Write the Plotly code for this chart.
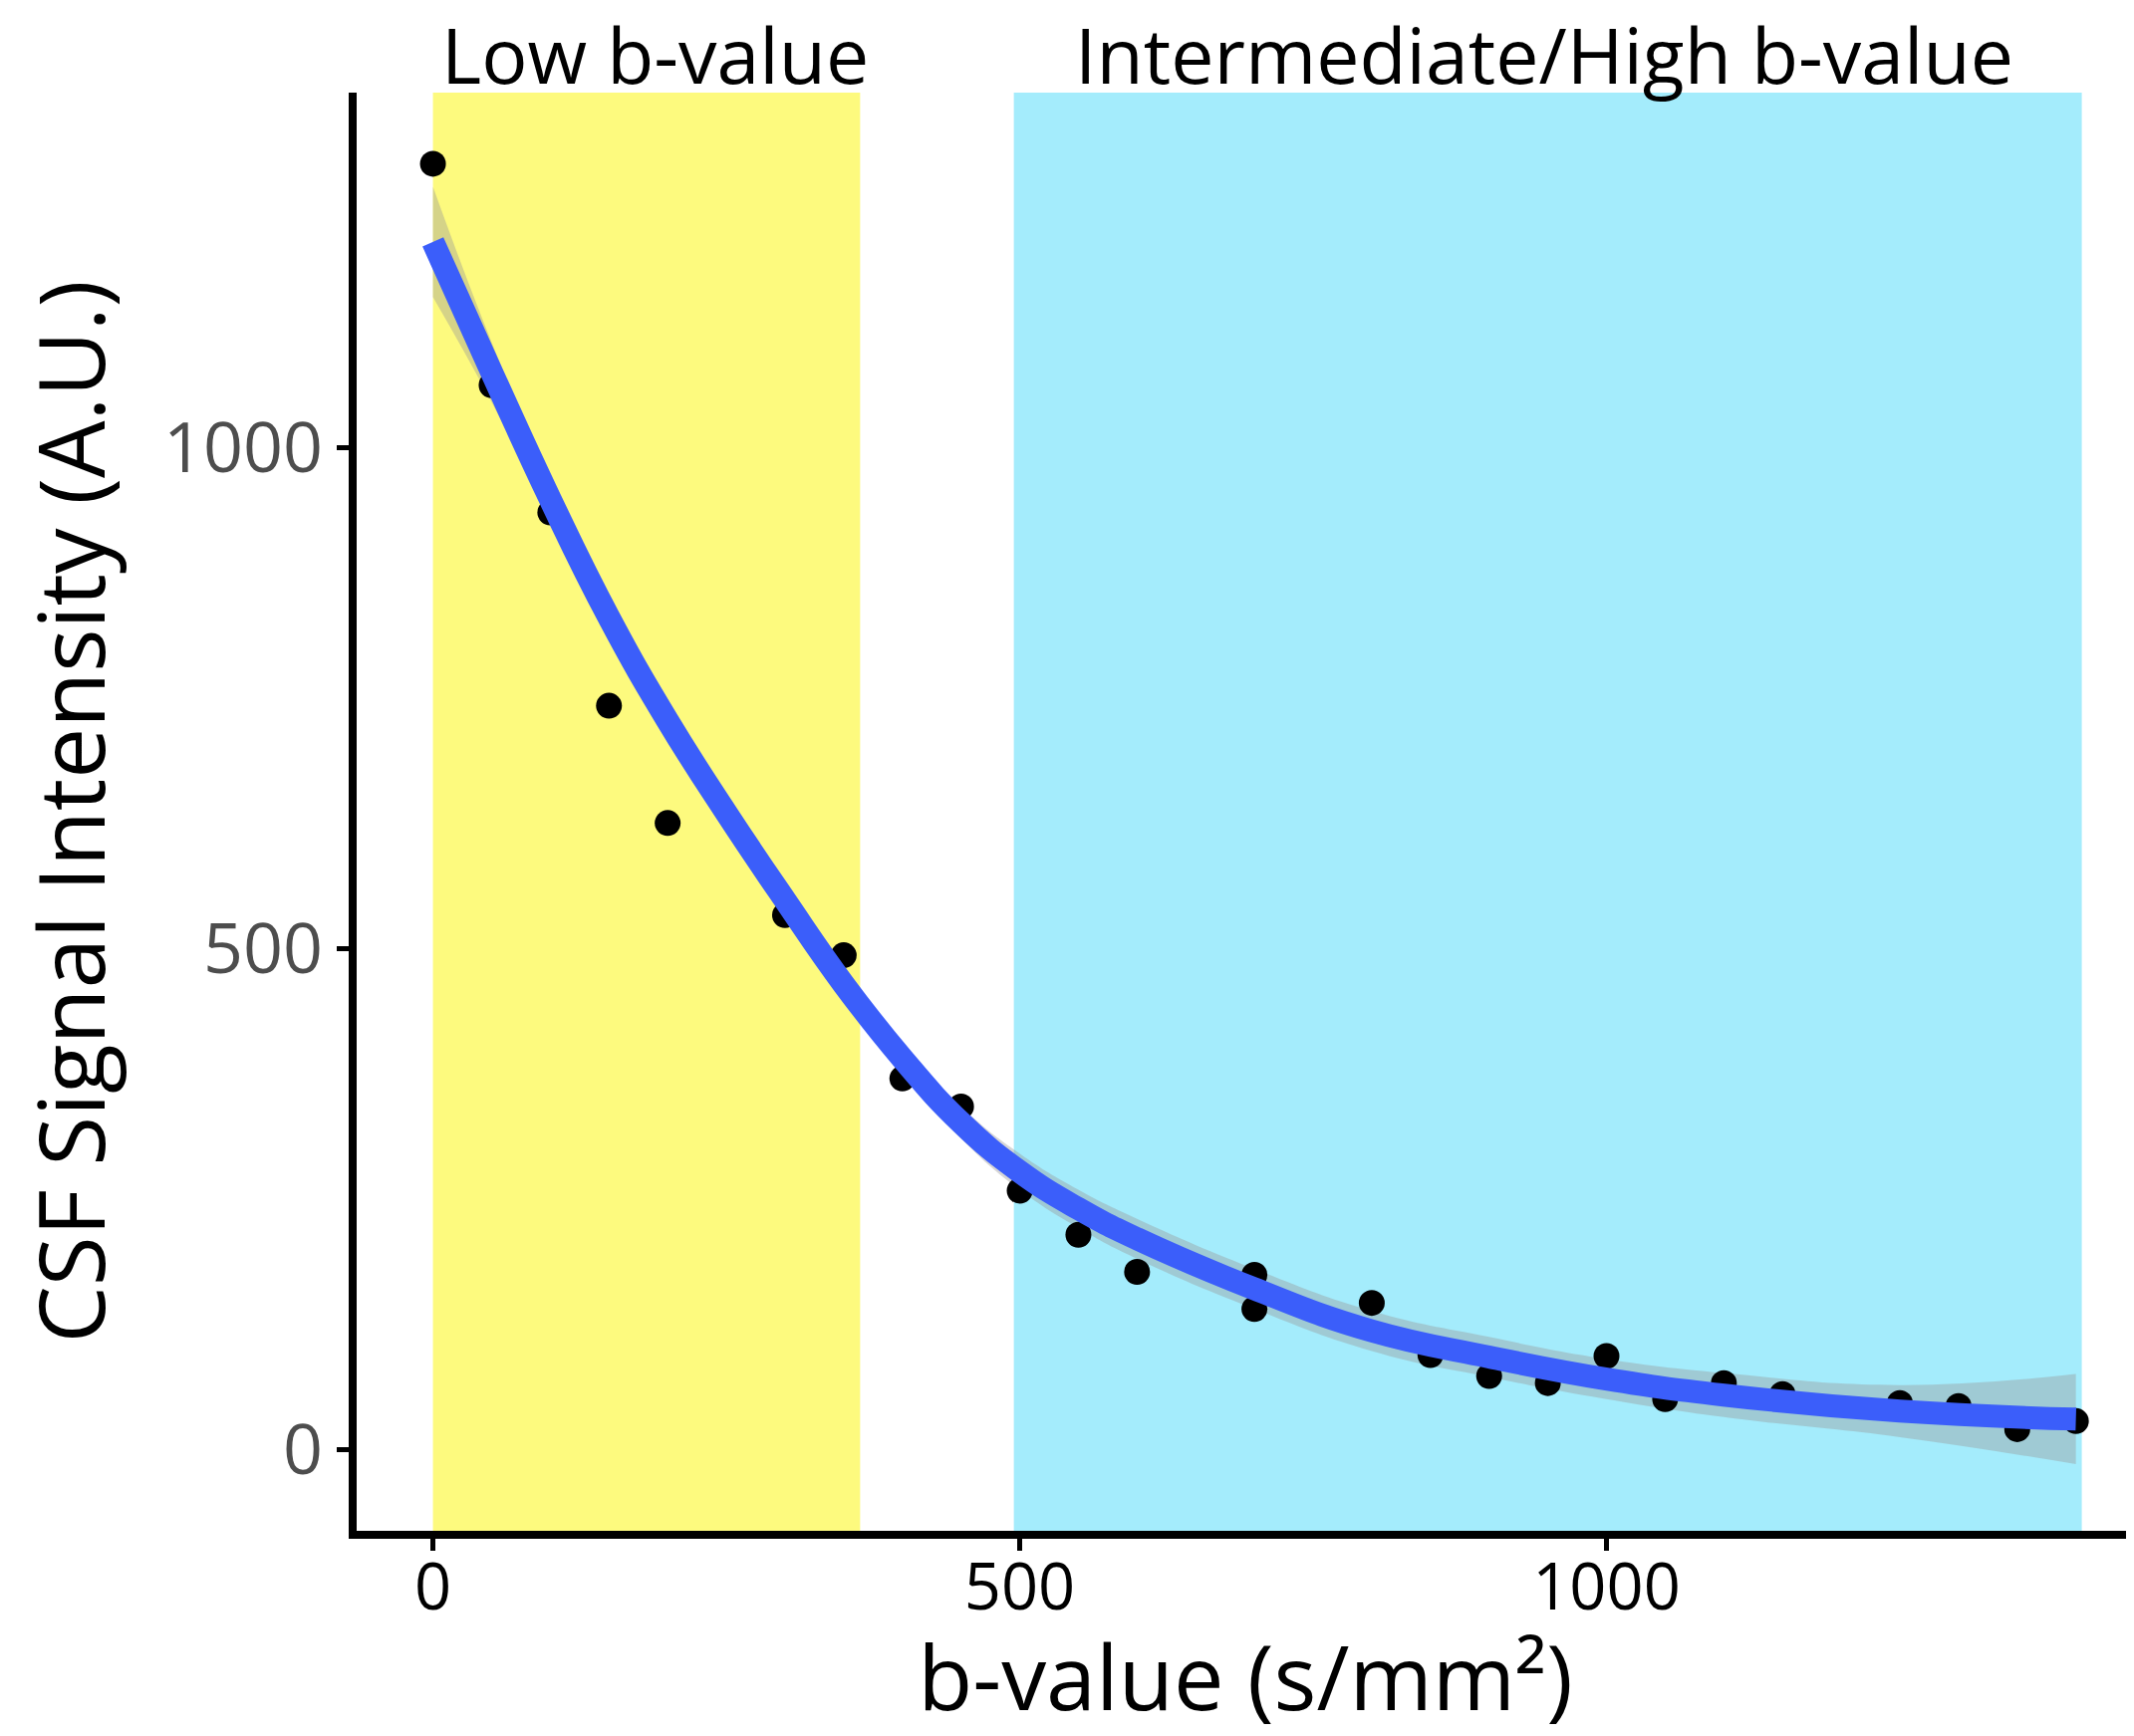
import plotly.graph_objects as go

# Observed data (b-value, CSF signal)
b_values = [0, 50, 100, 150, 200, 300, 350, 400, 450, 500, 550, 600, 700, 700,
            800, 850, 900, 950, 1000, 1050, 1100, 1150, 1250, 1300, 1350, 1400]
signal = [1283, 1062, 935, 742, 625, 533, 493, 370, 342, 258, 214, 177, 174, 140,
          146, 94, 73, 66, 93, 50, 66, 55, 46, 43, 20, 28]

# Smoothed fit and confidence band
fit_b = [0, 50, 100, 150, 200, 250, 300, 350, 400, 450, 500, 550, 600, 700, 800, 900, 1000, 1100, 1250, 1400]
fit_y = [1205, 1075, 948, 830, 727, 635, 548, 464, 390, 326, 277, 240, 210, 160, 118, 92, 70, 54, 38, 30]
fit_lo = [1150, 1045, 928, 817, 714, 622, 535, 451, 376, 310, 259, 221, 190, 140, 98, 72, 50, 32, 12, -15]
fit_hi = [1260, 1105, 968, 843, 740, 648, 561, 477, 404, 342, 295, 259, 230, 180, 138, 112, 90, 76, 64, 75]

# Shaded regions
low_region = [0, 364]
high_region = [495, 1405]
region_labels = ["Low b-value", "Intermediate/High b-value"]
label_x = [189, 947]

x_ticks = [0, 500, 1000]
y_ticks = [0, 500, 1000]

FONT = "Open Sans"
W, H = 2134, 1735          # page adds an 8px body margin
T, B, L, R = 85, 206, 350, 0
plot_h = H - T - B

fig = go.Figure()

fig.add_shape(type="rect", xref="x", yref="paper", x0=low_region[0], x1=low_region[1],
              y0=0, y1=1, fillcolor="#FDFA7E", line_width=0, layer="below")
fig.add_shape(type="rect", xref="x", yref="paper", x0=high_region[0], x1=high_region[1],
              y0=0, y1=1, fillcolor="#A4ECFC", line_width=0, layer="below")

fig.add_trace(go.Scatter(x=fit_b, y=fit_hi, mode="lines",
                         line=dict(width=0, shape="spline", smoothing=1.3),
                         showlegend=False, hoverinfo="skip"))
fig.add_trace(go.Scatter(x=fit_b, y=fit_lo, mode="lines",
                         line=dict(width=0, shape="spline", smoothing=1.3),
                         fill="tonexty", fillcolor="rgba(153,153,153,0.4)",
                         showlegend=False, hoverinfo="skip"))
fig.add_trace(go.Scatter(x=b_values, y=signal, mode="markers",
                         marker=dict(color="black", size=26), showlegend=False))
fig.add_trace(go.Scatter(x=fit_b, y=fit_y, mode="lines",
                         line=dict(color="#3B5EFA", width=23, shape="spline", smoothing=1.3),
                         showlegend=False))

for txt, xv in zip(region_labels, label_x):
    fig.add_annotation(x=xv, y=1 + (T - 47) / plot_h, xref="x", yref="paper",
                       yanchor="middle", showarrow=False, text=txt,
                       font=dict(family=FONT, size=77, color="black"))

fig.update_layout(
    width=W, height=H,
    margin=dict(l=L, r=R, t=T, b=B),
    paper_bgcolor="white", plot_bgcolor="white",
    font=dict(family=FONT),
    xaxis=dict(range=[-65, 1449.5], tickvals=x_ticks, ticktext=[str(v) for v in x_ticks],
               showgrid=False, zeroline=False, showline=True, linecolor="black", linewidth=8,
               ticks="outside", ticklen=12, tickwidth=5, tickcolor="black",
               ticklabelstandoff=-19,
               tickfont=dict(family=FONT, size=65, color="black"),
               title=dict(text="b-value (s/mm²)", font=dict(family=FONT, size=90, color="black"),
                          standoff=37)),
    yaxis=dict(range=[-81.5, 1354], tickvals=y_ticks, ticktext=[str(v) for v in y_ticks],
               showgrid=False, zeroline=False, showline=True, linecolor="black", linewidth=8,
               ticks="outside", ticklen=12, tickwidth=5, tickcolor="black",
               tickfont=dict(family=FONT, size=70, color="#4D4D4D"),
               title=dict(text="CSF Signal Intensity (A.U.)",
                          font=dict(family=FONT, size=91, color="black"), standoff=55)),
)

fig.write_html("out.html")
